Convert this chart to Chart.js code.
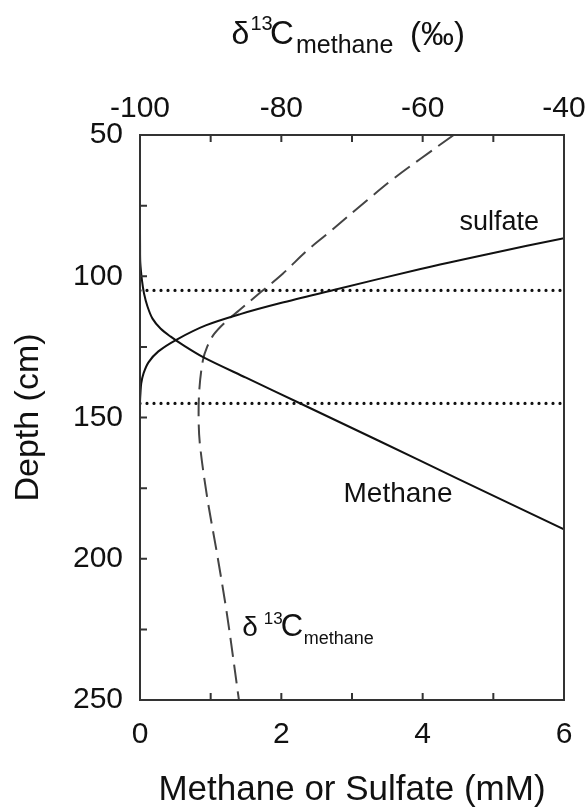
<!DOCTYPE html>
<html>
<head>
<meta charset="utf-8">
<script src="https://cdn.jsdelivr.net/npm/chart.js@4.4.1/dist/chart.umd.min.js"></script>
<style>
  body { margin: 0; background: #fff; }
  #wrap { width: 588px; height: 811px; }
</style>
</head>
<body>
<div id="wrap"><canvas id="profile"></canvas></div>
<script>
// sulfate (mM) vs depth (cm)
var sulfateDepth = [86.5, 92, 97.4, 104.9, 109.5, 113.4, 117.4, 122.4, 126.6, 130.5, 134.4, 138.0, 141.2, 144, 147];
var sulfateConc  = [6.0, 4.95, 3.97, 2.74, 1.99, 1.42, 0.93, 0.52, 0.26, 0.12, 0.05, 0.017, 0.007, 0.001, 0];

// methane (mM) vs depth (cm)
var methaneDepth = [84, 89, 95.1, 101.5, 106.1, 110.7, 115.0, 118.5, 121.3, 124.2, 128.7, 135.9, 145.4, 158.5, 171.7, 189.6];
var methaneConc  = [0, 0.001, 0.004, 0.028, 0.057, 0.106, 0.177, 0.29, 0.43, 0.60, 0.90, 1.50, 2.30, 3.40, 4.50, 6.0];

// d13C of methane (permil) vs depth (cm)
var d13cDepth = [50, 58.4, 66, 73.2, 85, 91, 99.1, 105.6, 112.1, 115.7, 120.4, 125, 129.8, 140, 151, 160, 178.2, 198.2, 219.5, 250];
var d13cValue = [-55.6, -60.3, -64.4, -67.9, -73.5, -76.4, -79.8, -82.9, -86.0, -87.7, -89.5, -90.5, -91.1, -91.6, -91.7, -91.5, -90.5, -89.1, -87.7, -86.0];

// SMTZ boundaries (cm)
var zoneDepths = [105, 145];

var xTicksShown = [0, 2, 4, 6];
var x2TicksShown = [-100, -80, -60, -40];
var yTicksShown = [50, 100, 150, 200, 250];

var fontFamily = '"Liberation Sans", Arial, Helvetica, sans-serif';

function toPoints(xs, ys) {
  return xs.map(function(v, i) { return {x: v, y: ys[i]}; });
}

var datasets = [
  {
    label: 'sulfate',
    data: toPoints(sulfateConc, sulfateDepth),
    borderColor: '#111', borderWidth: 2, tension: 0.3,
    showLine: true, pointRadius: 0, xAxisID: 'x'
  },
  {
    label: 'Methane',
    data: toPoints(methaneConc, methaneDepth),
    borderColor: '#111', borderWidth: 2, tension: 0.3,
    showLine: true, pointRadius: 0, xAxisID: 'x'
  },
  {
    label: 'd13C',
    data: toPoints(d13cValue, d13cDepth),
    borderColor: '#444', borderWidth: 2, borderDash: [19, 8], tension: 0.35,
    showLine: true, pointRadius: 0, xAxisID: 'x2'
  }
];
zoneDepths.forEach(function(d) {
  datasets.push({
    label: 'zone ' + d,
    data: [{x: 0, y: d}, {x: 6, y: d}],
    borderColor: '#111', borderWidth: 3.2, borderDash: [0, 7], borderCapStyle: 'round',
    showLine: true, pointRadius: 0, xAxisID: 'x'
  });
});

var framePlugin = {
  id: 'frame',
  afterDatasetsDraw: function(chart) {
    var ctx = chart.ctx, a = chart.chartArea, s = chart.scales;
    var len = 7;
    ctx.save();
    ctx.strokeStyle = '#333';
    ctx.lineWidth = 2;
    ctx.strokeRect(a.left, a.top, a.right - a.left, a.bottom - a.top);
    ctx.beginPath();
    s.x.ticks.forEach(function(t) {
      var px = s.x.getPixelForValue(t.value);
      ctx.moveTo(px, a.bottom); ctx.lineTo(px, a.bottom - len);
    });
    s.x2.ticks.forEach(function(t) {
      var px = s.x2.getPixelForValue(t.value);
      ctx.moveTo(px, a.top); ctx.lineTo(px, a.top + len);
    });
    s.y.ticks.forEach(function(t) {
      var py = s.y.getPixelForValue(t.value);
      ctx.moveTo(a.left, py); ctx.lineTo(a.left + len, py);
    });
    ctx.stroke();
    ctx.restore();
  }
};

function txt(ctx, str, x, y, size) {
  ctx.font = size + 'px ' + fontFamily;
  ctx.fillText(str, x, y);
}

var labelPlugin = {
  id: 'labels',
  afterDraw: function(chart) {
    var ctx = chart.ctx, s = chart.scales;
    ctx.save();
    ctx.fillStyle = '#111';
    ctx.textAlign = 'left';
    ctx.textBaseline = 'alphabetic';

    // top axis title
    txt(ctx, 'δ', 231.5, 43.5, 32);
    txt(ctx, '13', 250.5, 30, 20);
    txt(ctx, 'C', 270, 43.5, 33);
    txt(ctx, 'methane', 296, 53, 25);
    txt(ctx, '(‰)', 410, 45, 33);

    // curve labels
    txt(ctx, 'sulfate', s.x.getPixelForValue(4.52), s.y.getPixelForValue(83.8), 27);
    txt(ctx, 'Methane', s.x.getPixelForValue(2.88), s.y.getPixelForValue(180), 28);

    var dx = s.x.getPixelForValue(1.446), dy = s.y.getPixelForValue(227.2);
    txt(ctx, 'δ', dx, dy, 28);
    txt(ctx, '13', dx + 21.5, dy - 12, 17);
    txt(ctx, 'C', dx + 38.5, dy, 31);
    txt(ctx, 'methane', dx + 61.5, dy + 8, 18);
    ctx.restore();
  }
};

function noPad(sc) {
  sc.paddingLeft = 0; sc.paddingRight = 0;
  sc.paddingTop = 0; sc.paddingBottom = 0;
}

var ctx = document.getElementById('profile').getContext('2d');
new Chart(ctx, {
  type: 'scatter',
  data: { datasets: datasets },
  options: {
    responsive: true,
    maintainAspectRatio: false,
    animation: false,
    layout: { padding: { right: 24, top: 0, bottom: 0, left: 0 } },
    plugins: { legend: { display: false }, tooltip: { enabled: false } },
    scales: {
      x: {
        type: 'linear', position: 'bottom', min: 0, max: 6,
        grid: { display: false, drawTicks: false },
        border: { display: false },
        ticks: {
          stepSize: 1, padding: 17, color: '#111', maxRotation: 0,
          font: { size: 30, family: fontFamily },
          callback: function(v) { return xTicksShown.indexOf(v) >= 0 ? v : ''; }
        },
        title: {
          display: true, text: 'Methane or Sulfate (mM)', color: '#111',
          font: { size: 35, family: fontFamily }, padding: { top: 0, bottom: 0 }
        },
        afterFit: function(sc) { sc.height = 111; noPad(sc); }
      },
      x2: {
        type: 'linear', position: 'top', min: -100, max: -40,
        grid: { display: false, drawTicks: false },
        border: { display: false },
        ticks: {
          stepSize: 10, padding: 8, color: '#111', maxRotation: 0,
          font: { size: 30, family: fontFamily },
          callback: function(v) { return x2TicksShown.indexOf(v) >= 0 ? v : ''; }
        },
        afterFit: function(sc) { sc.height = 135; noPad(sc); }
      },
      y: {
        type: 'linear', position: 'left', min: 50, max: 250, reverse: true,
        grid: { display: false, drawTicks: false },
        border: { display: false },
        ticks: {
          stepSize: 25, padding: 17, color: '#111',
          font: { size: 30, family: fontFamily },
          callback: function(v) { return yTicksShown.indexOf(v) >= 0 ? v : ''; }
        },
        title: {
          display: true, text: 'Depth (cm)', color: '#111',
          font: { size: 34, family: fontFamily }, padding: { top: 8, bottom: 0 }
        },
        afterFit: function(sc) { sc.width = 140; noPad(sc); }
      }
    }
  },
  plugins: [framePlugin, labelPlugin]
});
</script>
</body>
</html>
